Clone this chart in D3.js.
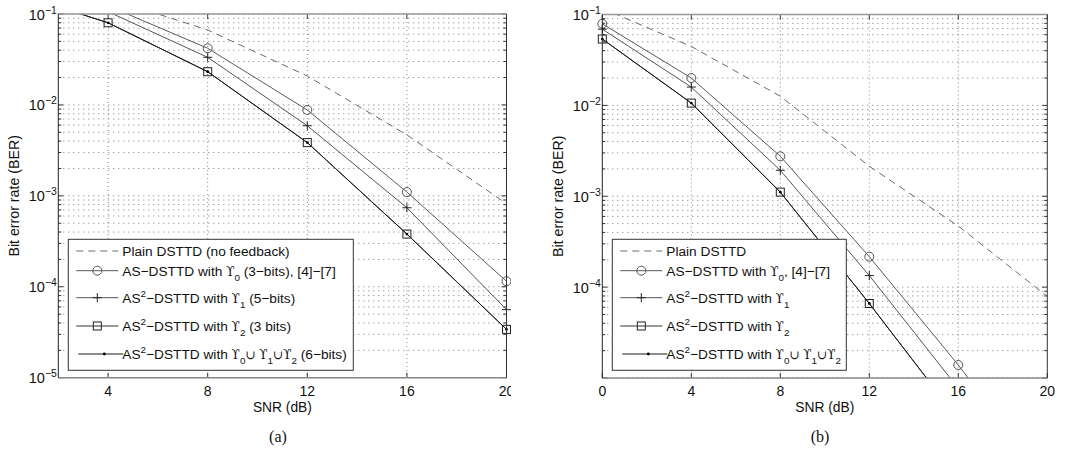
<!DOCTYPE html>
<html>
<head>
<meta charset="utf-8">
<script src="https://cdn.jsdelivr.net/npm/d3@7"></script>
<style>
  body { margin: 0; background: #fff; }
  svg { display: block; font-family: "Liberation Sans", Arial, sans-serif; }
</style>
</head>
<body>
<svg width="1082" height="450"></svg>
<script>
// ---- data ----
// panel (a)
const snrA = [2, 4, 8, 12, 16, 20];
const plainA = [0.25, 0.15, 0.0667, 0.0208, 0.00468, 0.00082];
const gamma0A = [0.2, 0.123, 0.042, 0.0088, 0.0011, 1.15e-4];
const gamma1A = [0.17, 0.106, 0.0334, 0.0059, 7.4e-4, 5.6e-5];
const gamma2A = [0.12, 0.080, 0.0232, 0.00385, 3.8e-4, 3.4e-5];
const unionA = [0.12, 0.080, 0.0232, 0.00385, 3.8e-4, 3.4e-5];

// panel (b)
const snrB = [0, 4, 8, 12, 16, 20];
const plainB = [0.117, 0.0445, 0.0126, 0.00214, 4.7e-4, 7.9e-5];
const gamma0B = [0.079, 0.0200, 0.00275, 2.16e-4, 1.39e-5, 7e-7];
const gamma1B = [0.069, 0.0159, 0.00193, 1.34e-4, 7.7e-6, 4e-7];
const gamma2B = [0.0537, 0.0106, 0.00111, 6.6e-5, 3.5e-6, 2e-7];
const unionB = [0.0537, 0.0106, 0.00111, 6.6e-5, 3.5e-6, 2e-7];

// ticks
const xTicksA = [4, 8, 12, 16, 20];
const xTicksB = [0, 4, 8, 12, 16, 20];
const yExpA = [-1, -2, -3, -4, -5];
const yExpB = [-1, -2, -3, -4];

// legend texts (segments: plain / sup / sub / sym)
const legendA = [
  [["Plain DSTTD (no feedback)"]],
  [["AS−DSTTD with "], ["ϒ", "sym"], ["0", "sub"], [" (3−bits), [4]−[7]"]],
  [["AS"], ["2", "sup"], ["−DSTTD with "], ["ϒ", "sym"], ["1", "sub"], [" (5−bits)"]],
  [["AS"], ["2", "sup"], ["−DSTTD with "], ["ϒ", "sym"], ["2", "sub"], [" (3 bits)"]],
  [["AS"], ["2", "sup"], ["−DSTTD with "], ["ϒ", "sym"], ["0", "sub"], ["∪ ϒ", "sym"], ["1", "sub"], ["∪ϒ", "sym"], ["2", "sub"], [" (6−bits)"]]
];
const legendB = [
  [["Plain DSTTD"]],
  [["AS−DSTTD with "], ["ϒ", "sym"], ["0", "sub"], [", [4]−[7]"]],
  [["AS"], ["2", "sup"], ["−DSTTD with "], ["ϒ", "sym"], ["1", "sub"]],
  [["AS"], ["2", "sup"], ["−DSTTD with "], ["ϒ", "sym"], ["2", "sub"]],
  [["AS"], ["2", "sup"], ["−DSTTD with "], ["ϒ", "sym"], ["0", "sub"], ["∪ ϒ", "sym"], ["1", "sub"], ["∪ϒ", "sym"], ["2", "sub"]]
];

// line styles, same order as the legend
const styles = [
  { stroke: "#6a6a6a", dash: "7,5", marker: null },
  { stroke: "#5a5a5a", dash: null, marker: "circle" },
  { stroke: "#555", dash: null, marker: "plus" },
  { stroke: "#333", dash: null, marker: "square" },
  { stroke: "#1a1a1a", dash: null, marker: "dot" }
];

const svg = d3.select("svg");

function addRichText(sel, parts, fs) {
  let shift = 0;
  parts.forEach(([t, kind]) => {
    let target = 0;
    if (kind === "sub") target = 5;
    if (kind === "sup") target = -6;
    const small = kind === "sub" || kind === "sup";
    const ts = sel.append("tspan")
      .attr("dy", target - shift)
      .attr("font-size", small ? fs * 0.72 : fs)
      .text(t);
    if (kind === "sym") ts.attr("font-family", "'DejaVu Serif', 'DejaVu Sans', serif").attr("font-size", fs * 0.88);
    shift = target;
  });
}

function drawMarker(g, kind, cx, cy, color) {
  if (kind === "circle") {
    g.append("circle").attr("cx", cx).attr("cy", cy).attr("r", 4.5)
      .attr("fill", "none").attr("stroke", color);
  } else if (kind === "plus") {
    g.append("path").attr("d", `M${cx - 4.5},${cy}H${cx + 4.5}M${cx},${cy - 4.5}V${cy + 4.5}`)
      .attr("stroke", color).attr("fill", "none");
  } else if (kind === "square") {
    g.append("rect").attr("x", cx - 4).attr("y", cy - 4).attr("width", 8).attr("height", 8)
      .attr("fill", "none").attr("stroke", color);
  } else if (kind === "dot") {
    g.append("circle").attr("cx", cx).attr("cy", cy).attr("r", 1.4).attr("fill", "#000");
  }
}

function drawPanel(cfg) {
  const g = svg.append("g");
  if (cfg.clipRight) {
    svg.append("clipPath").attr("id", cfg.id + "-outer")
      .append("rect").attr("x", 0).attr("y", 0).attr("width", cfg.clipRight).attr("height", 450);
    g.attr("clip-path", `url(#${cfg.id}-outer)`);
  }
  const x = d3.scaleLinear().domain(cfg.xDomain).range([cfg.left, cfg.right]);
  const y = d3.scaleLog().domain([1e-5, 1e-1]).range([cfg.bottom, cfg.top]);

  // grid
  const minor = y.ticks();
  g.append("g").selectAll("line").data(minor).join("line")
    .attr("x1", cfg.left).attr("x2", cfg.right)
    .attr("y1", d => y(d)).attr("y2", d => y(d))
    .attr("stroke", "#777").attr("stroke-dasharray", "1,4");
  g.append("g").selectAll("line").data(cfg.xTicks.filter(v => v > cfg.xDomain[0] && v < cfg.xDomain[1])).join("line")
    .attr("x1", d => x(d)).attr("x2", d => x(d))
    .attr("y1", cfg.top).attr("y2", cfg.bottom)
    .attr("stroke", "#888").attr("stroke-dasharray", "1,3");

  // ticks (inward, on all four sides)
  const tk = g.append("g").attr("stroke", "#333");
  cfg.xTicks.forEach(v => {
    tk.append("line").attr("x1", x(v)).attr("x2", x(v)).attr("y1", cfg.bottom).attr("y2", cfg.bottom - 5);
    tk.append("line").attr("x1", x(v)).attr("x2", x(v)).attr("y1", cfg.top).attr("y2", cfg.top + 5);
  });
  minor.forEach(v => {
    const major = Math.abs(Math.log10(v) - Math.round(Math.log10(v))) < 1e-6;
    const len = major ? 5 : 3;
    tk.append("line").attr("x1", cfg.left).attr("x2", cfg.left + len).attr("y1", y(v)).attr("y2", y(v));
    tk.append("line").attr("x1", cfg.right).attr("x2", cfg.right - len).attr("y1", y(v)).attr("y2", y(v));
  });

  // curves
  const clipId = cfg.id + "-clip";
  svg.append("clipPath").attr("id", clipId)
    .append("rect").attr("x", cfg.left).attr("y", cfg.top)
    .attr("width", cfg.right - cfg.left).attr("height", cfg.bottom - cfg.top);
  const line = d3.line().x(d => x(d[0])).y(d => y(d[1]));
  const curves = g.append("g").attr("clip-path", `url(#${clipId})`);
  const markers = g.append("g");
  cfg.series.forEach((vals, i) => {
    const st = styles[i];
    const pts = cfg.snr.map((s, j) => [s, vals[j]]);
    curves.append("path").datum(pts)
      .attr("d", line).attr("fill", "none")
      .attr("stroke", st.stroke).attr("stroke-width", 1)
      .attr("stroke-dasharray", st.dash);
    if (st.marker) {
      pts.filter(p => p[0] >= cfg.xDomain[0] && p[0] <= cfg.xDomain[1] && p[1] >= 1e-5 && p[1] <= 1e-1)
        .forEach(p => drawMarker(markers, st.marker, x(p[0]), y(p[1]), st.marker === "circle" ? "#555" : "#222"));
    }
  });

  // axes box
  g.append("line").attr("x1", cfg.left).attr("x2", cfg.right).attr("y1", cfg.top).attr("y2", cfg.top)
    .attr("stroke", "#999").attr("stroke-width", 1.5);
  g.append("line").attr("x1", cfg.left).attr("x2", cfg.right).attr("y1", cfg.bottom).attr("y2", cfg.bottom)
    .attr("stroke", "#888").attr("stroke-width", 1.5);
  g.append("line").attr("x1", cfg.left).attr("x2", cfg.left).attr("y1", cfg.top).attr("y2", cfg.bottom)
    .attr("stroke", "#222");
  g.append("line").attr("x1", cfg.right).attr("x2", cfg.right).attr("y1", cfg.top).attr("y2", cfg.bottom)
    .attr("stroke", "#333");

  // tick labels
  g.append("g").selectAll("text").data(cfg.xTicks).join("text")
    .attr("x", d => x(d)).attr("y", cfg.bottom + 18)
    .attr("text-anchor", "middle").attr("font-size", 14).attr("fill", "#111")
    .text(d => d);
  cfg.yExp.forEach(e => {
    const t = g.append("text").attr("x", cfg.left - 1.5).attr("y", y(10 ** e) + 5.5)
      .attr("text-anchor", "end").attr("fill", "#111");
    addRichText(t, [["10"], ["−" + (-e), "sup"]], 14.5);
  });

  // axis titles
  g.append("text").attr("x", (cfg.left + cfg.right) / 2).attr("y", cfg.bottom + 34)
    .attr("text-anchor", "middle").attr("font-size", 13.8).attr("fill", "#111")
    .text("SNR (dB)");
  g.append("text")
    .attr("transform", `translate(${cfg.titleX},${(cfg.top + cfg.bottom) / 2}) rotate(-90)`)
    .attr("text-anchor", "middle").attr("dominant-baseline", "middle")
    .attr("font-size", 14.2).attr("fill", "#111")
    .text("Bit error rate (BER)");
  g.append("text").attr("x", cfg.captionX).attr("y", 442)
    .attr("text-anchor", "middle").attr("font-family", "'Liberation Serif', 'Times New Roman', serif")
    .attr("font-size", 16).attr("fill", "#111")
    .text(cfg.caption);

  // legend
  const lg = g.append("g").attr("transform", `translate(${cfg.legend.x},${cfg.legend.y})`);
  lg.append("rect").attr("width", cfg.legend.w).attr("height", 131)
    .attr("fill", "#fff").attr("stroke", "#333");
  const rowY = [11.7, 31.4, 58.4, 86.7, 114.7];
  cfg.legendText.forEach((parts, i) => {
    const st = styles[i];
    const ry = rowY[i];
    const x1 = i === 4 ? 10 : 8, x2 = i === 4 ? 55 : 50;
    lg.append("line").attr("x1", x1).attr("x2", x2).attr("y1", ry).attr("y2", ry)
      .attr("stroke", st.stroke).attr("stroke-dasharray", st.dash);
    if (st.marker) drawMarker(lg, st.marker, i === 4 ? 36 : 29, ry, st.marker === "circle" ? "#555" : "#222");
    const t = lg.append("text").attr("x", 54).attr("y", ry + 5).attr("fill", "#111");
    addRichText(t, parts, 13.7);
  });
}

drawPanel({
  id: "pa", left: 58.3, right: 506.5, top: 14, bottom: 377.7,
  xDomain: [2, 20], snr: snrA, xTicks: xTicksA, yExp: yExpA,
  series: [plainA, gamma0A, gamma1A, gamma2A, unionA],
  legendText: legendA, legend: { x: 68.3, y: 239.3, w: 285 },
  titleX: 15, captionX: 278, caption: "(a)", clipRight: 511
});
drawPanel({
  id: "pb", left: 602.3, right: 1047.3, top: 14.5, bottom: 378,
  xDomain: [0, 20], snr: snrB, xTicks: xTicksB, yExp: yExpB,
  series: [plainB, gamma0B, gamma1B, gamma2B, unionB],
  legendText: legendB, legend: { x: 612.3, y: 239.3, w: 234 },
  titleX: 559, captionX: 820, caption: "(b)"
});
</script>
</body>
</html>
